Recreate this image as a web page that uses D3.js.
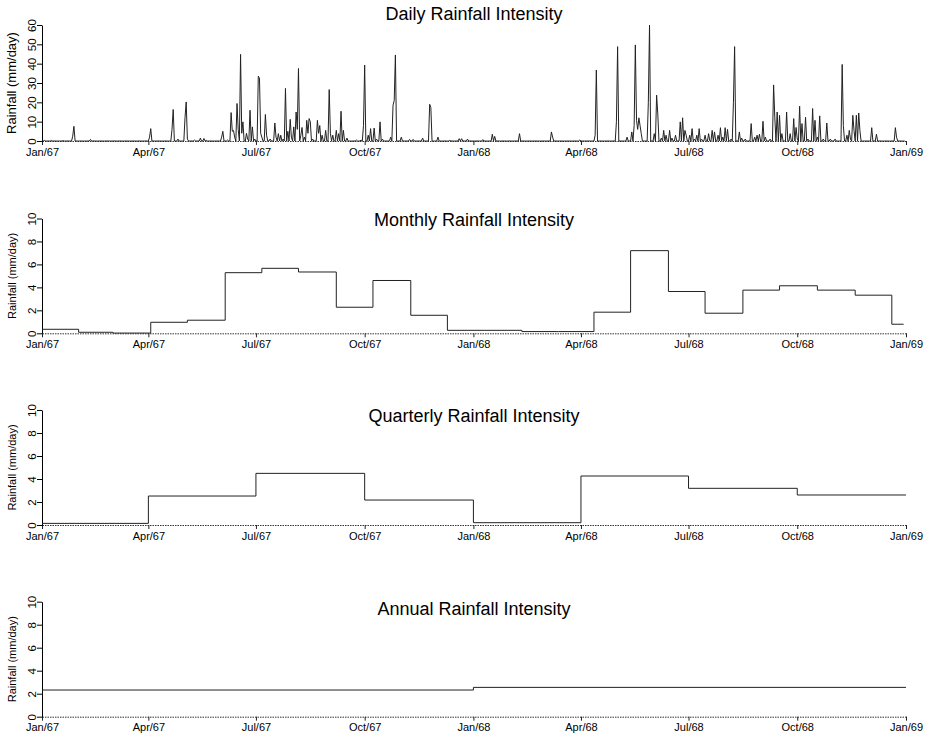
<!DOCTYPE html>
<html><head><meta charset="utf-8">
<script src="https://cdn.jsdelivr.net/npm/d3@7"></script>
<style>body{margin:0;background:#fff}text{font-family:"Liberation Sans",Arial,Helvetica,sans-serif}</style>
</head><body>
<svg id="c" width="925" height="738"></svg>
<script>
// ---------- DATA ----------
const tickLabels = ["Jan/67","Apr/67","Jul/67","Oct/67","Jan/68","Apr/68","Jul/68","Oct/68","Jan/69"];
const tickDates  = ["1967-01-01","1967-04-01","1967-07-01","1967-10-01","1968-01-01","1968-04-01","1968-07-01","1968-10-01","1969-01-01"];

// daily rainfall (mm/day): days since 1967-01-01 with rain, and amounts; all other days are 0
const rainDays = [2,8,18,26,27,41,91,92,110,111,115,121,122,123,129,134,137,139,
 152,153,157,160,161,162,163,165,166,168,169,170,173,174,176,178,180,183,184,185,186,189,190,193,197,198,200,202,204,206,208,210,211,213,215,216,217,219,220,222,224,225,226,227,229,233,234,235,237,240,243,244,246,249,251,253,255,258,266,270,272,273,276,278,281,283,286,288,
 295,297,298,299,304,311,314,322,328,329,335,345,353,355,360,373,381,383,404,431,432,
 455,468,469,486,487,495,499,501,502,503,504,505,506,507,513,514,518,520,521,524,526,528,531,533,536,540,542,544,545,548,550,552,554,556,558,561,564,567,569,572,574,576,578,580,583,585,586,590,592,595,600,603,605,607,610,612,616,619,620,622,624,626,630,633,636,638,639,641,643,646,648,652,654,656,658,661,664,667,671,677,678,681,683,684,686,687,689,691,692,702,706,722,723];
const rainValues = [0.3,0.3,0.2,2.5,7.6,0.8,2,6.4,6,16.3,1,12,20.2,1,0.5,1.5,1.3,0.3,
 2,5,0.5,14.7,5,5.5,2,19.4,6,44.8,4,9.9,4,1,15.9,7.3,1,33.5,32.5,4,2,13.7,3,1,9.3,2,3.8,3,1,27.2,5,11.2,2,7.3,15,6,37.5,3,7,2,10.7,4,11.6,10,1,10.7,4,8,3,5.5,26.6,4,3,5.5,3.8,15.4,5.5,1.5,0.5,0.5,8,39.3,3,6.4,6.7,1,9.9,1,
 2,18.5,21,44.5,2,0.8,0.8,1.5,19,17.3,2,0.3,1.2,1.2,1,0.7,3.5,2.4,3.8,4.7,2,
 0.5,3,36.7,10,48.8,2,4.7,8,49.7,10.7,6,12,8,3.8,20,60,3.8,23.7,14,1.5,5.5,3,5.5,1.5,3,9.9,12,5.5,3,3,6.4,1,3,6.4,1,3,3.8,5.5,4.7,3,6.9,2,6.9,6,1,20,48.8,4.7,1.5,1,9,2,3,3.5,10.2,2,1,29,12,15,13.3,3.8,15,3.8,11.6,7,1,18,9,12.3,1,16.8,10.7,2,13,1,9.3,1,1,39.6,8,3,5.5,1,13.3,5.5,13.3,14.5,5.5,6.9,3.5,6.9,2];
const lastDay = 730;

// monthly means (mm/day), steps start at these day offsets as drawn
const monthStartDays = [0,31,60,92,123,155,186,217,249,280,312,343,374,406,437,467,498,530,561,593,624,656,688,719];
const monthlyValues  = [0.35,0.09,0.02,0.96,1.14,5.28,5.66,5.34,2.27,4.6,1.57,0.26,0.26,0.15,0.15,1.84,7.2,3.64,1.75,3.76,4.14,3.76,3.32,0.79];
const monthlyEndDay = 729;

// quarterly means
const quarterStarts = ["1967-01-01","1967-04-01","1967-07-01","1967-10-01","1968-01-01","1968-04-01","1968-07-01","1968-10-01"];
const quarterlyValues = [0.14,2.52,4.49,2.17,0.2,4.26,3.19,2.61];

// annual means
const yearStarts = ["1967-01-01","1968-01-01"];
const annualValues = [2.32,2.55];
const seriesEnd = "1969-01-01";

// ---------- CHART ----------
const svg = d3.select("#c");
const t0 = Date.UTC(1967,0,1);
const dayToDate = d => new Date(t0 + d*864e5);
const parse = s => new Date(s + "T00:00:00Z");

const x = d3.scaleUtc().domain([parse("1967-01-01"), parse("1969-01-01")]).range([42, 906]);

const valByDay = new Map(rainDays.map((d,i)=>[d, rainValues[i]]));
const dailySeries = d3.range(0, lastDay+1).map(d => ({date: dayToDate(d), v: valByDay.get(d) || 0}));

const monthlySeries = monthStartDays.map((d,i)=>({date: dayToDate(d), v: monthlyValues[i]}))
  .concat([{date: dayToDate(monthlyEndDay), v: monthlyValues[monthlyValues.length-1]}]);
const quarterlySeries = quarterStarts.map((s,i)=>({date: parse(s), v: quarterlyValues[i]}))
  .concat([{date: parse(seriesEnd), v: quarterlyValues[quarterlyValues.length-1]}]);
const annualSeries = yearStarts.map((s,i)=>({date: parse(s), v: annualValues[i]}))
  .concat([{date: parse(seriesEnd), v: annualValues[annualValues.length-1]}]);

const panels = [
  {title:"Daily Rainfall Intensity",     top:25,    bottom:141,   yMax:60, step:10, titleY:20,    labelSize:13, labelX:16,   data:dailySeries,     curve:d3.curveLinear},
  {title:"Monthly Rainfall Intensity",   top:218.5, bottom:333.3, yMax:10, step:2,  titleY:225.5, labelSize:11, labelX:15.5, data:monthlySeries,   curve:d3.curveStepAfter},
  {title:"Quarterly Rainfall Intensity", top:410,   bottom:525,   yMax:10, step:2,  titleY:421.5, labelSize:11, labelX:15.5, data:quarterlySeries, curve:d3.curveStepAfter},
  {title:"Annual Rainfall Intensity",    top:601.7, bottom:716.7, yMax:10, step:2,  titleY:614.5, labelSize:11, labelX:15.5, data:annualSeries,    curve:d3.curveStepAfter}
];

panels.forEach(p => {
  const y = d3.scaleLinear().domain([0, p.yMax]).range([p.bottom, p.top]);
  const g = svg.append("g");

  // title
  g.append("text").attr("x", 474).attr("y", p.titleY).attr("text-anchor","middle")
    .attr("font-size", 18).attr("fill","#000").text(p.title);

  // x axis
  const xa = g.append("g").attr("transform", `translate(0,${p.bottom})`)
    .call(d3.axisBottom(x).tickValues(tickDates.map(parse)).tickFormat((d,i)=>tickLabels[i])
      .tickSize(4).tickSizeOuter(0).tickPadding(3));
  xa.select(".domain").attr("stroke","#333").attr("stroke-dasharray","1.5,1");
  xa.selectAll(".tick line").attr("stroke","#222");
  xa.selectAll("text").attr("font-size",11).attr("fill","#000").attr("font-family",null);

  // y axis
  const ya = g.append("g").attr("transform", `translate(42,0)`)
    .call(d3.axisLeft(y).tickValues(d3.range(0, p.yMax + 0.001, p.step)).tickSize(5).tickSizeOuter(0));
  ya.select(".domain").attr("stroke","#000");
  ya.selectAll(".tick line").attr("stroke","#000");
  ya.selectAll("text").attr("x", null).attr("dy", null).attr("font-size", 11.5).attr("fill","#000")
    .attr("font-family",null).attr("text-anchor","middle").attr("transform","translate(-6.5,0) rotate(-90)");

  // y label
  g.append("text").attr("transform", `translate(${p.labelX},${(p.top+p.bottom)/2}) rotate(-90)`)
    .attr("text-anchor","middle").attr("font-size",p.labelSize).attr("fill","#000").text("Rainfall (mm/day)");

  // data line
  const line = d3.line().x(d=>x(d.date)).y(d=>y(d.v)).curve(p.curve);
  g.append("path").datum(p.data).attr("d", line).attr("fill","none")
    .attr("stroke","#222").attr("stroke-width",1);
});
</script>
</body></html>
